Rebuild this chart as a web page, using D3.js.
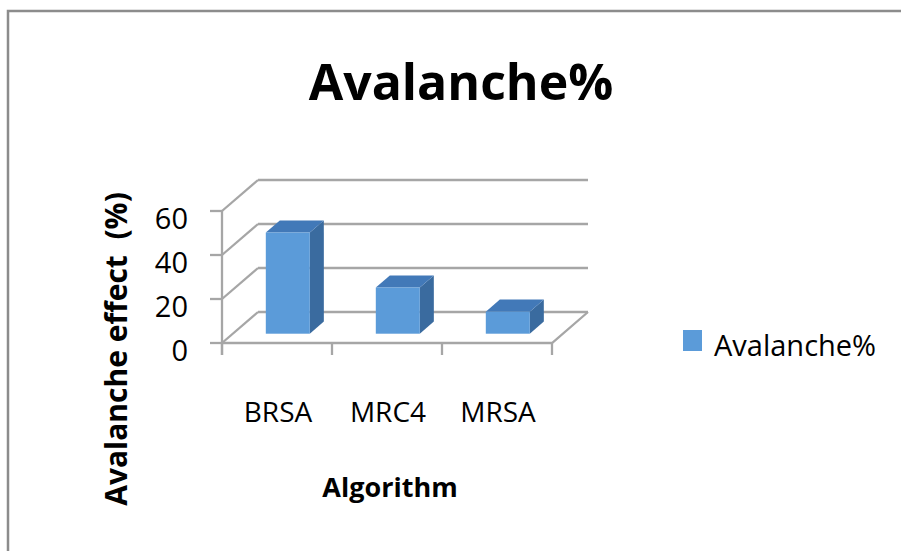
<!DOCTYPE html>
<html><head><meta charset="utf-8">
<script src="https://cdn.jsdelivr.net/npm/d3@7"></script>
<style>body{margin:0;background:#fff}svg{display:block}</style>
</head><body>
<script>
const categories = ["BRSA", "MRC4", "MRSA"];
const values = [46, 21, 10];
const yTicks = [0, 20, 40, 60];
const seriesName = "Avalanche%";
const titleText = "Avalanche%";
const xTitle = "Algorithm";
const yTitle = "Avalanche effect  (%)";

const W = 901, H = 551;
const font = "'Open Sans', sans-serif";
const svg = d3.select("body").append("svg").attr("width", W).attr("height", H);

// border (top and left visible)
svg.append("path").attr("d", `M8,${H} L8,11 L${W},11`).attr("fill", "none").attr("stroke", "#8c8c8c").attr("stroke-width", 2.5);

// scales
const y = d3.scaleLinear().domain([0, 60]).range([343, 211]);
const x = d3.scaleBand().domain(categories).range([222, 552]).paddingInner(0).paddingOuter(0);
const DX = 36, DY = -31; // depth vector
const grid = "#a6a6a6";
const gw = 2.3;

// side wall diagonals and back wall gridlines
yTicks.forEach(v => {
  svg.append("line").attr("x1", 222).attr("y1", y(v)).attr("x2", 222 + DX).attr("y2", y(v) + DY)
    .attr("stroke", grid).attr("stroke-width", gw);
  svg.append("line").attr("x1", 222 + DX).attr("y1", y(v) + DY).attr("x2", 552 + DX).attr("y2", y(v) + DY)
    .attr("stroke", grid).attr("stroke-width", gw);
});
// floor front and right edges
svg.append("path").attr("d", `M222,${y(0)} L552,${y(0)} L${552 + DX},${y(0) + DY}`)
  .attr("fill", "none").attr("stroke", grid).attr("stroke-width", gw);

// y axis line and ticks
svg.append("line").attr("x1", 222).attr("x2", 222).attr("y1", y(60)).attr("y2", y(0) + 12)
  .attr("stroke", grid).attr("stroke-width", gw);
yTicks.forEach(v => {
  svg.append("line").attr("x1", 210).attr("x2", 222).attr("y1", y(v)).attr("y2", y(v))
    .attr("stroke", grid).attr("stroke-width", gw);
  svg.append("text").attr("x", 188).attr("y", y(v) + 18).attr("text-anchor", "end")
    .attr("font-family", font).attr("font-size", 29).attr("fill", "#000").text(v);
});
// x ticks
const xt = [...categories.map(c => x(c)), 552];
xt.forEach(t => {
  svg.append("line").attr("x1", t).attr("x2", t).attr("y1", y(0)).attr("y2", y(0) + 12)
    .attr("stroke", grid).attr("stroke-width", gw);
});
// category labels
categories.forEach(c => {
  svg.append("text").attr("x", x(c) + x.bandwidth() / 2 + 1).attr("y", 422).attr("text-anchor", "middle")
    .attr("font-family", font).attr("font-size", 28).attr("fill", "#000").text(c);
});

// 3D bars
const f1 = 0.3, f2 = 0.69, bw = 44;
const frontCol = "#5b9bd9", sideCol = "#3a6b9f", topCol = "#4279b8";
categories.forEach((c, i) => {
  const v = values[i];
  const x0 = x(c) + (x.bandwidth() - bw) / 2 + DX * f1;
  const yb = y(0) + DY * f1, yt = y(v) + DY * f1;
  const ddx = DX * (f2 - f1), ddy = DY * (f2 - f1);
  const g = svg.append("g");
  g.append("path").attr("d", `M${x0 + bw},${yb} L${x0 + bw + ddx},${yb + ddy} L${x0 + bw + ddx},${yt + ddy} L${x0 + bw},${yt} Z`).attr("fill", sideCol);
  g.append("path").attr("d", `M${x0},${yt} L${x0 + ddx},${yt + ddy} L${x0 + bw + ddx},${yt + ddy} L${x0 + bw},${yt} Z`).attr("fill", topCol);
  g.append("rect").attr("x", x0).attr("y", yt).attr("width", bw).attr("height", yb - yt).attr("fill", frontCol);
});

// title
svg.append("text").attr("x", 461).attr("y", 100).attr("text-anchor", "middle")
  .attr("font-family", font).attr("font-weight", "bold").attr("font-size", 50).attr("fill", "#000").text(titleText);
// axis titles
svg.append("text").attr("x", 390).attr("y", 497).attr("text-anchor", "middle")
  .attr("font-family", font).attr("font-weight", "bold").attr("font-size", 27).attr("fill", "#000").text(xTitle);
svg.append("text").attr("transform", "translate(127,349) rotate(-90)").attr("text-anchor", "middle")
  .attr("font-family", font).attr("font-weight", "bold").attr("font-size", 30).attr("fill", "#000")
  .attr("xml:space", "preserve").style("white-space", "pre").text(yTitle);

// legend
svg.append("rect").attr("x", 683).attr("y", 330).attr("width", 19).attr("height", 21).attr("fill", frontCol);
svg.append("text").attr("x", 714).attr("y", 356).attr("font-family", font).attr("font-size", 29).attr("fill", "#000").text(seriesName);
</script>
</body></html>
